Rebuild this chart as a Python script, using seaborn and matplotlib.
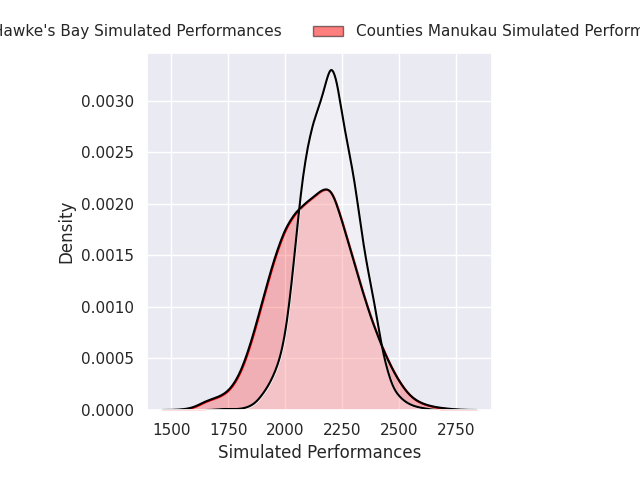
import matplotlib
matplotlib.use("Agg")
import matplotlib.pyplot as plt
from matplotlib.patches import Patch
import numpy as np
import pandas as pd
import seaborn as sns

# Counties Manukau: grid of performance values and estimated density
cm_perf = [1550, 1600, 1650, 1700, 1750, 1800, 1850, 1900, 1950, 2000, 2050, 2100, 2150,
           2200, 2250, 2300, 2350, 2400, 2450, 2500, 2550, 2600, 2650, 2700, 2750]
cm_density = [0.000005, 0.00002, 0.00009, 0.00012, 0.00017, 0.00033, 0.00065, 0.00107,
              0.00148, 0.00180, 0.00196, 0.00205, 0.00214, 0.00224, 0.00184, 0.00147,
              0.00107, 0.00075, 0.00048, 0.00027, 0.00012, 0.00006, 0.00003, 0.000015, 0.000005]

# Hawke's Bay
hb_perf = [1700, 1725, 1750, 1775, 1800, 1825, 1850, 1875, 1900, 1925, 1950, 1975, 2000,
           2025, 2050, 2075, 2100, 2125, 2150, 2175, 2200, 2225, 2250, 2275, 2300, 2325,
           2350, 2375, 2400, 2425, 2450, 2475, 2500, 2525, 2550, 2575, 2600, 2625]
hb_density = [0.000005, 0.00001, 0.00001, 0.000008, 0.00001, 0.00002, 0.00004, 0.00008,
              0.00015, 0.00023, 0.00034, 0.00048, 0.00072, 0.00115, 0.00172, 0.00225,
              0.00258, 0.00281, 0.00295, 0.00314, 0.00338, 0.00322, 0.00285, 0.00255,
              0.00228, 0.00188, 0.00149, 0.00122, 0.00092, 0.00058, 0.00036, 0.0002,
              0.00013, 0.00008, 0.00005, 0.00003, 0.00002, 0.00001]

labels = ["Hawke's Bay Simulated Performances", "Counties Manukau Simulated Performances"]

cm = pd.DataFrame({"Simulated Performances": cm_perf, "w": cm_density})
hb = pd.DataFrame({"Simulated Performances": hb_perf, "w": hb_density})

sns.set_theme(style="darkgrid")

fig = plt.figure(figsize=(6.4, 4.8), dpi=100)
ax = fig.add_axes([0.2297, 0.1458, 0.539, 0.7438])

cm_kws = dict(data=cm, x="Simulated Performances", weights="w", bw_adjust=0.30, cut=1.5)
hb_kws = dict(data=hb, x="Simulated Performances", weights="w", bw_adjust=0.24, cut=1.4)

sns.kdeplot(**cm_kws, fill=True, color="red", alpha=0.25, linewidth=1.5, ax=ax)
sns.kdeplot(**hb_kws, fill=True, color="white", alpha=0.25, linewidth=1.5, ax=ax)
sns.kdeplot(**cm_kws, color="black", linewidth=1.5, ax=ax)
sns.kdeplot(**hb_kws, color="black", linewidth=1.5, ax=ax)

ax.set_xlabel("Simulated Performances")
ax.set_ylabel("Density")

handles = [Patch(facecolor="white", edgecolor="black", alpha=0.5, label=labels[0]),
           Patch(facecolor="red", edgecolor="black", alpha=0.5, label=labels[1])]
ax.legend(handles=handles, loc="lower center", bbox_to_anchor=(0.5, 1.0), ncol=2,
          frameon=False)

fig.savefig("out.png", dpi=100)
